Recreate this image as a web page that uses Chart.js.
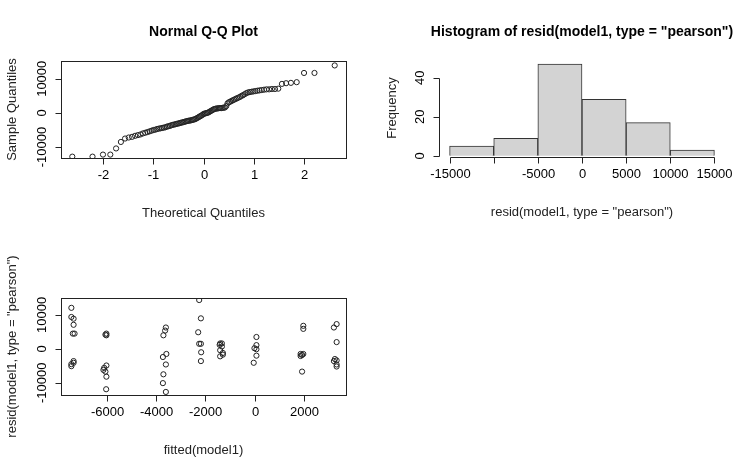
<!DOCTYPE html>
<html><head><meta charset="utf-8">
<script src="https://cdn.jsdelivr.net/npm/chart.js@4/dist/chart.umd.min.js"></script>
<style>
  body { margin: 0; background: #fff; }
  #wrap { position: relative; width: 756px; height: 472px; }
  canvas { position: absolute; left: 0; top: 0; }
</style></head>
<body><div id="wrap">
<canvas id="qq" width="756" height="472"></canvas>
<canvas id="hist" width="756" height="472"></canvas>
<canvas id="fit" width="756" height="472"></canvas>
</div>
<script>
// sorted pearson residuals (sample quantiles)
const sampleQuantiles = [
  -12800, -12800, -12200, -12200, -10400, -8500, -7500, -7200, -7000, -6700,
  -6500, -6300, -6000, -5800, -5600, -5400, -5200, -5000, -4900, -4700,
  -4600, -4500, -4400, -4300, -4200, -4000, -3900, -3800, -3600, -3500,
  -3400, -3300, -3200, -3100, -3000, -2900, -2800, -2700, -2600, -2500,
  -2400, -2300, -2250, -2200, -2100, -2000, -1900, -1800, -1600, -1400,
  -1200, -1000, -800, -600, -300, -200, -100, 0, 100, 300,
  500, 700, 900, 1100, 1200, 1300, 1300, 1400, 1400, 1400,
  1500, 1500, 1600, 2000, 2800, 3100, 3300, 3500, 3700, 3900,
  4100, 4300, 4500, 4700, 5000, 5200, 5500, 5800, 6000, 6100,
  6200, 6300, 6400, 6500, 6600, 6700, 6800, 6900, 6900, 7000,
  7000, 7100, 8500, 8700, 8800, 9000, 11700, 11700, 13900
];
const qqXTicks = [-2, -1, 0, 1, 2];
const qqYTicks = [-10000, 0, 10000];

const histBins = [-12500, -7500, -2500, 2500, 7500, 12500];
const histCounts = [5, 9, 47, 29, 17, 3];
const histXTicks = [-15000, -10000, -5000, 0, 5000, 10000, 15000];
const histXLabels = ['-15000', '', '-5000', '0', '5000', '10000', '15000'];
const histYTicks = [0, 20, 40];

const fittedVals = [
  -7430, -7430, -7340, -7340, -7370, -7300, -7340, -7340, -7430, -7430,
  -6010, -6010, -6050, -6100, -6010, -6130, -6010, -6020, -6050,
  -3600, -3630, -3700, -3720, -3580, -3600, -3700, -3720, -3600,
  -2250, -2180, -2290, -2250, -2180, -2170, -2180,
  -1400, -1330, -1420, -1330, -1400, -1290, -1290, -1400,
  70, 70, -10, 70, 70, -40,
  1970, 1970, 1860, 1920, 1860, 1970, 1920,
  3320, 3210, 3320, 3250, 3320, 3210, 3320, 3320
];
const residVals = [
  12100, 9400, 8900, 7100, 4500, 4500, -3600, -4100, -4500, -5100,
  4500, 4000, 4200, -5600, -4900, -6200, -8200, -11900, -6700,
  6300, 5400, 4000, -2400, -1500, -4600, -7500, -10100, -12700,
  14400, 9000, 4900, 1500, 1500, -1000, -3600,
  1600, 1600, 1200, 700, -400, -1200, -1700, -2200,
  3500, 1100, 200, -100, -2000, -4100,
  6800, 5900, -1500, -1800, -2100, -1500, -6700,
  7300, 6300, 2000, -3000, -3400, -3600, -4600, -5200
];
const fitXTicks = [-6000, -4000, -2000, 0, 2000];
const fitYTicks = [-10000, 0, 10000];

// normal quantiles for ppoints(n), as qqnorm uses
function qnorm(p) {
  const a = [-39.69683028665376, 220.9460984245205, -275.9285104469687, 138.357751867269, -30.66479806614716, 2.506628277459239];
  const b = [-54.47609879822406, 161.5858368580409, -155.6989798598866, 66.80131188771972, -13.28068155288572];
  const c = [-0.007784894002430293, -0.3223964580411365, -2.400758277161838, -2.549732539343734, 4.374664141464968, 2.938163982698783];
  const d = [0.007784695709041462, 0.3224671290700398, 2.445134137142996, 3.754408661907416];
  const pl = 0.02425;
  if (p < pl) { const q = Math.sqrt(-2 * Math.log(p)); return (((((c[0]*q+c[1])*q+c[2])*q+c[3])*q+c[4])*q+c[5]) / ((((d[0]*q+d[1])*q+d[2])*q+d[3])*q+1); }
  if (p > 1 - pl) { const q = Math.sqrt(-2 * Math.log(1 - p)); return -(((((c[0]*q+c[1])*q+c[2])*q+c[3])*q+c[4])*q+c[5]) / ((((d[0]*q+d[1])*q+d[2])*q+d[3])*q+1); }
  const q = p - 0.5, r = q * q;
  return (((((a[0]*r+a[1])*r+a[2])*r+a[3])*r+a[4])*r+a[5])*q / (((((b[0]*r+b[1])*r+b[2])*r+b[3])*r+b[4])*r+1);
}
const n = sampleQuantiles.length;
const qqPoints = sampleQuantiles.map((v, i) => ({ x: qnorm((i + 0.5) / n), y: v }));

const FONT = '13px "Liberation Sans", Arial, sans-serif';
const TFONT = 'bold 14px "Liberation Sans", Arial, sans-serif';
const TICK = 6;

// R base-graphics style frame, axes and titles
const rFrame = {
  id: 'rFrame',
  afterDraw(chart, args, o) {
    const ctx = chart.ctx, a = chart.chartArea;
    const xs = chart.scales.x, ys = chart.scales.y;
    ctx.save();
    ctx.strokeStyle = '#222'; ctx.fillStyle = '#000'; ctx.lineWidth = 1;
    if (o.box) ctx.strokeRect(a.left + 0.5, a.top + 0.5, a.right - a.left, a.bottom - a.top);
    const xAt = v => Math.round(xs.getPixelForValue(v)) + 0.5;
    const yAt = v => Math.round(ys.getPixelForValue(v)) + 0.5;
    // x axis
    const xb = a.bottom + 0.5;
    ctx.beginPath();
    if (!o.box) { ctx.moveTo(xAt(o.xTicks[0]), xb); ctx.lineTo(xAt(o.xTicks[o.xTicks.length - 1]), xb); }
    o.xTicks.forEach(t => { ctx.moveTo(xAt(t), xb); ctx.lineTo(xAt(t), xb + TICK); });
    ctx.stroke();
    ctx.font = FONT; ctx.textAlign = 'center'; ctx.textBaseline = 'middle';
    o.xTicks.forEach((t, i) => {
      const lab = o.xLabels ? o.xLabels[i] : String(t);
      ctx.fillText(lab, xAt(t), a.bottom + 17);
    });
    // y axis
    const xl = a.left + 0.5;
    ctx.beginPath();
    if (!o.box) { ctx.moveTo(xl, yAt(o.yTicks[0])); ctx.lineTo(xl, yAt(o.yTicks[o.yTicks.length - 1])); }
    o.yTicks.forEach(t => { ctx.moveTo(xl, yAt(t)); ctx.lineTo(xl - TICK, yAt(t)); });
    ctx.stroke();
    o.yTicks.forEach(t => {
      ctx.save();
      ctx.translate(a.left - 19, ys.getPixelForValue(t));
      ctx.rotate(-Math.PI / 2);
      ctx.fillText(String(t), 0, 0);
      ctx.restore();
    });
    // titles
    const cx = (a.left + a.right) / 2;
    ctx.fillStyle = '#222';
    ctx.fillText(o.xTitle, cx, a.bottom + 55);
    ctx.save();
    ctx.translate(a.left - o.yTitleOff, (a.top + a.bottom) / 2);
    ctx.rotate(-Math.PI / 2);
    ctx.fillText(o.yTitle, 0, 0);
    ctx.restore();
    if (o.main) { ctx.font = TFONT; ctx.fillStyle = '#000'; ctx.fillText(o.main, cx, 32); }
    ctx.restore();
  }
};

function pad(area) {
  return { left: area[0], top: area[1], right: 756 - area[2], bottom: 472 - area[3] };
}
function baseOpts(area, xr, yr, frame) {
  return {
    responsive: false, animation: false, devicePixelRatio: 1,
    layout: { padding: pad(area) },
    plugins: { legend: { display: false }, tooltip: { enabled: false }, rFrame: frame },
    scales: {
      x: { type: 'linear', display: false, offset: false, min: xr[0], max: xr[1] },
      y: { type: 'linear', display: false, min: yr[0], max: yr[1] }
    }
  };
}
const pointDs = data => ({
  data, showLine: false, pointRadius: 2.6, pointBorderWidth: 1,
  pointBorderColor: '#222', pointBackgroundColor: 'rgba(0,0,0,0)'
});

new Chart(document.getElementById('qq'), {
  type: 'scatter',
  data: { datasets: [pointDs(qqPoints)] },
  options: baseOpts([61, 61, 346, 158], [-2.83, 2.83], [-13200, 15200], {
    box: true, xTicks: qqXTicks, yTicks: qqYTicks,
    xTitle: 'Theoretical Quantiles', yTitle: 'Sample Quantiles', yTitleOff: 49,
    main: 'Normal Q-Q Plot'
  }),
  plugins: [rFrame]
});

new Chart(document.getElementById('hist'), {
  type: 'bar',
  data: { datasets: [{
    data: histBins.map((b, i) => ({ x: b, y: histCounts[i] })),
    backgroundColor: '#d3d3d3', borderColor: '#333', borderWidth: 1,
    barPercentage: 1, categoryPercentage: 1
  }] },
  options: baseOpts([439, 59, 725, 157], [-16200, 16200], [-0.6, 49.6], {
    box: false, xTicks: histXTicks, xLabels: histXLabels, yTicks: histYTicks,
    xTitle: 'resid(model1, type = "pearson")', yTitle: 'Frequency', yTitleOff: 47,
    main: 'Histogram of resid(model1, type = "pearson")'
  }),
  plugins: [rFrame]
});

new Chart(document.getElementById('fit'), {
  type: 'scatter',
  data: { datasets: [pointDs(fittedVals.map((x, i) => ({ x, y: residVals[i] })))] },
  options: baseOpts([61, 298, 346, 395], [-7850, 3700], [-13600, 15000], {
    box: true, xTicks: fitXTicks, yTicks: fitYTicks,
    xTitle: 'fitted(model1)', yTitle: 'resid(model1, type = "pearson")', yTitleOff: 49
  }),
  plugins: [rFrame]
});
</script>
</body></html>
